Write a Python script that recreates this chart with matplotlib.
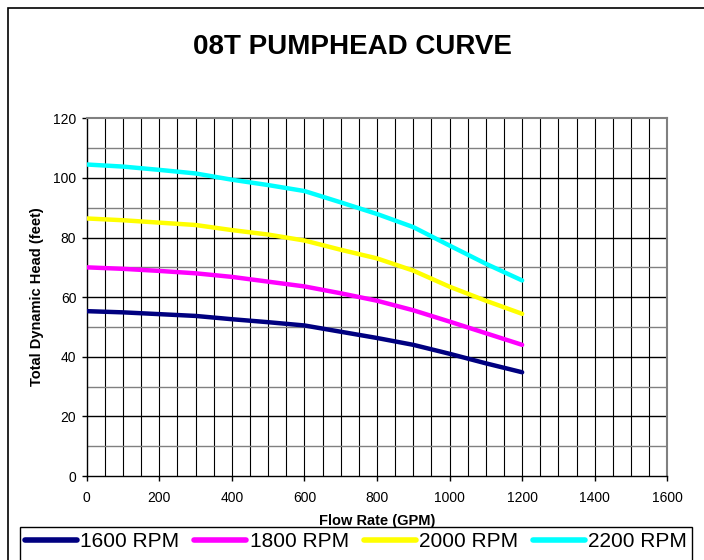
import matplotlib
matplotlib.use("Agg")

import numpy as np
import matplotlib.pyplot as plt
from matplotlib.patches import Rectangle
from matplotlib.ticker import MultipleLocator

plt.rcParams["font.family"] = ["Liberation Sans", "DejaVu Sans"]

# 데이터
flow = [0, 100, 200, 300, 400, 500, 600, 700, 800, 900, 1000, 1100, 1200]
head_1600 = [55.3, 54.9, 54.3, 53.7, 52.6, 51.6, 50.5, 48.4, 46.3, 44.0, 41.0, 37.8, 34.8]
head_1800 = [70.0, 69.5, 68.8, 68.0, 66.8, 65.2, 63.6, 61.3, 58.8, 55.6, 51.8, 47.9, 44.0]
head_2000 = [86.4, 85.8, 85.0, 84.2, 82.5, 81.0, 79.0, 75.9, 73.0, 68.9, 63.5, 58.8, 54.4]
head_2200 = [104.5, 103.8, 102.7, 101.5, 99.4, 97.6, 95.6, 91.8, 87.9, 83.5, 77.3, 71.2, 65.6]

series = [
    ("1600 RPM", head_1600, "#000080"),
    ("1800 RPM", head_1800, "#FF00FF"),
    ("2000 RPM", head_2000, "#FFFF00"),
    ("2200 RPM", head_2200, "#00FFFF"),
]

W, H = 704, 560
fig = plt.figure(figsize=(W / 100, H / 100), dpi=100)

# 바깥 테두리 (오른쪽/아래는 잘림)
fig.patches.append(Rectangle((8 / W, -0.1), 1.2, 1.1 - 8 / H, transform=fig.transFigure,
                             fill=False, edgecolor="black", linewidth=1.2))

ax = fig.add_axes([86.7 / W, 1 - 476 / H, (667.3 - 86.7) / W, (476 - 118.3) / H])

for label, vals, col in series:
    ax.plot(flow, vals, color=col, linewidth=3.2, label=label,
            solid_capstyle="round", zorder=3)

ax.set_xlim(0, 1600)
ax.set_ylim(0, 120)
ax.xaxis.set_major_locator(MultipleLocator(200))
ax.yaxis.set_major_locator(MultipleLocator(20))
ax.xaxis.set_minor_locator(MultipleLocator(50))
ax.yaxis.set_minor_locator(MultipleLocator(10))

# 격자
for xv in np.arange(50, 1600, 50):
    ax.axvline(xv, color="black", linewidth=0.8, zorder=1)
for yv in np.arange(10, 120, 10):
    c = "black" if yv % 20 == 0 else "#808080"
    ax.axhline(yv, color=c, linewidth=1.0, zorder=1)

ax.spines["top"].set_color("#808080")
ax.spines["right"].set_color("#808080")
ax.spines["top"].set_linewidth(1.5)
ax.spines["right"].set_linewidth(1.5)
ax.spines["left"].set_linewidth(1.0)
ax.spines["bottom"].set_linewidth(1.0)

ax.tick_params(which="major", direction="out", length=3.5, width=1.0, labelsize=10)
ax.tick_params(axis="x", pad=7)
ax.tick_params(axis="y", pad=4)
ax.tick_params(which="minor", length=0)

fig.text(0.5, 1 - 47 / H, "08T PUMPHEAD CURVE", ha="center", va="center",
         fontsize=20, fontweight="bold")
fig.text(377 / W, 1 - 521 / H, "Flow Rate (GPM)", ha="center", va="center",
         fontsize=10.5, fontweight="bold")
fig.text(37 / W, 1 - 297 / H, "Total Dynamic Head (feet)", ha="center", va="center",
         rotation=90, fontsize=10.5, fontweight="bold")

# 범례 (테두리는 아래로 잘려 보이게 따로 그림)
fig.patches.append(Rectangle((20 / W, -0.1), 672 / W, 0.1 + 1 - 527 / H,
                             transform=fig.transFigure, fill=False,
                             edgecolor="black", linewidth=1.0))
leg = fig.legend(loc="upper left", bbox_to_anchor=(20 / W, 0, 672 / W, 1 - 527 / H),
                 mode="expand", ncol=4, fontsize=15, frameon=False,
                 handlelength=2.5, handletextpad=0.15, borderpad=0.25,
                 borderaxespad=0, columnspacing=0.5)
for lh in leg.get_lines():
    lh.set_linewidth(4)

fig.savefig("out.png", dpi=100)
